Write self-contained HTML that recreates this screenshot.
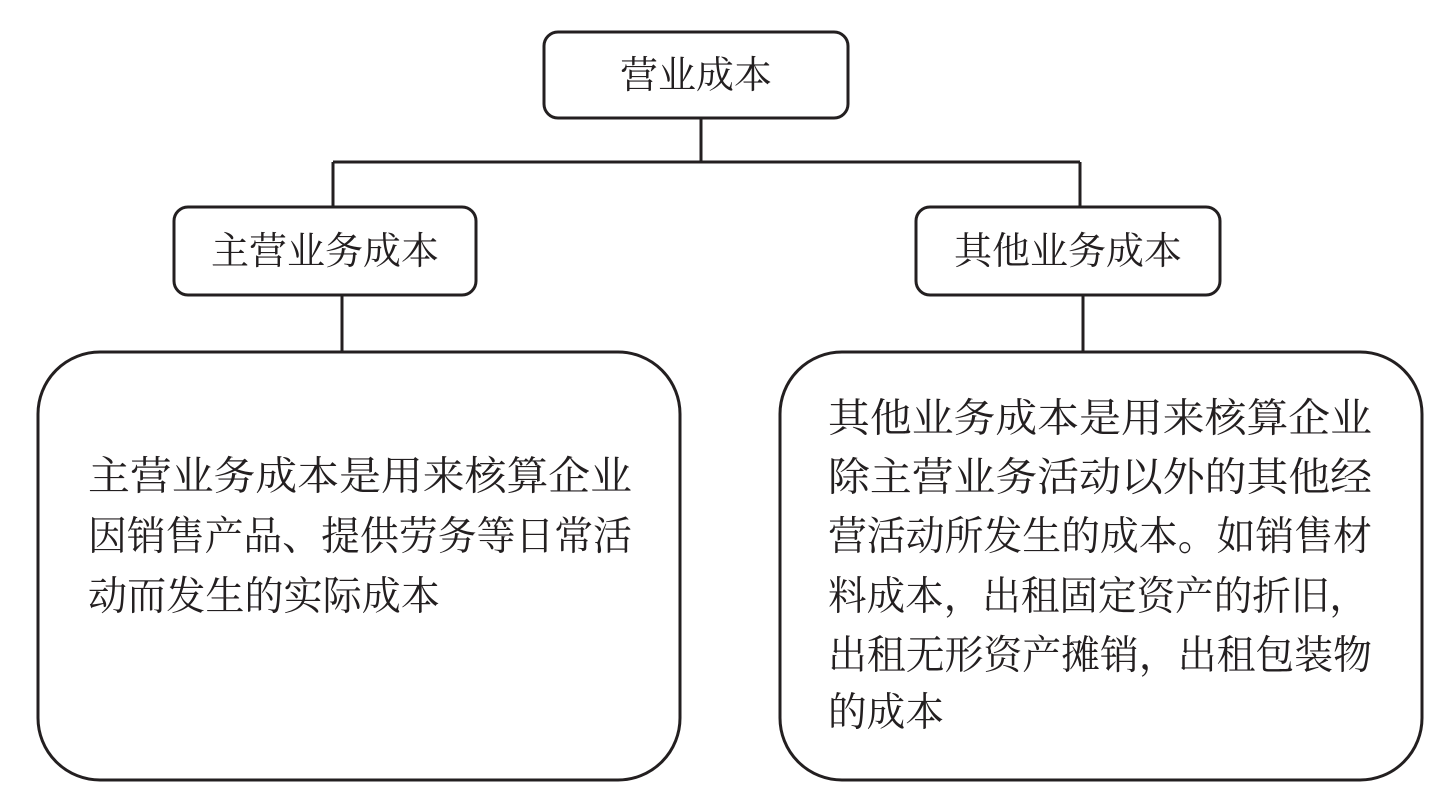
<!DOCTYPE html>
<html><head><meta charset="utf-8"><style>
html,body{margin:0;padding:0;background:#fff;}
svg text{font-family:"Liberation Serif","Noto Serif CJK SC","Noto Sans CJK SC",serif;fill:#231f20;}
</style></head><body>
<svg width="1446" height="804" viewBox="0 0 1446 804" xmlns="http://www.w3.org/2000/svg">
<g fill="none" stroke="#231f20" stroke-width="3">
<rect x="544" y="32" width="304" height="86" rx="14"/>
<rect x="174" y="207" width="302" height="88" rx="14"/>
<rect x="916" y="207" width="304" height="88" rx="14"/>
<rect x="38" y="352" width="642" height="428" rx="62"/>
<rect x="780" y="352" width="642" height="428" rx="62"/>
<path d="M701 118V162M333 162H1080M333 162V207M1080 162V207M342 295V352M1083 295V352"/>
</g>
<g font-size="38" text-anchor="middle" dominant-baseline="central">
<text x="696" y="76">营业成本</text>
<text x="325" y="252">主营业务成本</text>
<text x="1068" y="252">其他业务成本</text>
</g>
<g font-size="40" dominant-baseline="central" lengthAdjust="spacingAndGlyphs">
<text x="88" y="476" textLength="544" lengthAdjust="spacingAndGlyphs">主营业务成本是用来核算企业</text>
<text x="88" y="536" textLength="544" lengthAdjust="spacingAndGlyphs">因销售产品、提供劳务等日常活</text>
<text x="88" y="596" textLength="352" lengthAdjust="spacingAndGlyphs">动而发生的实际成本</text>
<text x="828" y="418" textLength="544" lengthAdjust="spacingAndGlyphs">其他业务成本是用来核算企业</text>
<text x="828" y="477" textLength="544" lengthAdjust="spacingAndGlyphs">除主营业务活动以外的其他经</text>
<text x="828" y="536" textLength="544" lengthAdjust="spacingAndGlyphs">营活动所发生的成本。如销售材</text>
<text x="828" y="596" textLength="540" lengthAdjust="spacingAndGlyphs">料成本，出租固定资产的折旧，</text>
<text x="828" y="655" textLength="544" lengthAdjust="spacingAndGlyphs">出租无形资产摊销，出租包装物</text>
<text x="828" y="712" textLength="116" lengthAdjust="spacingAndGlyphs">的成本</text>
</g>
</svg>
</body></html>
